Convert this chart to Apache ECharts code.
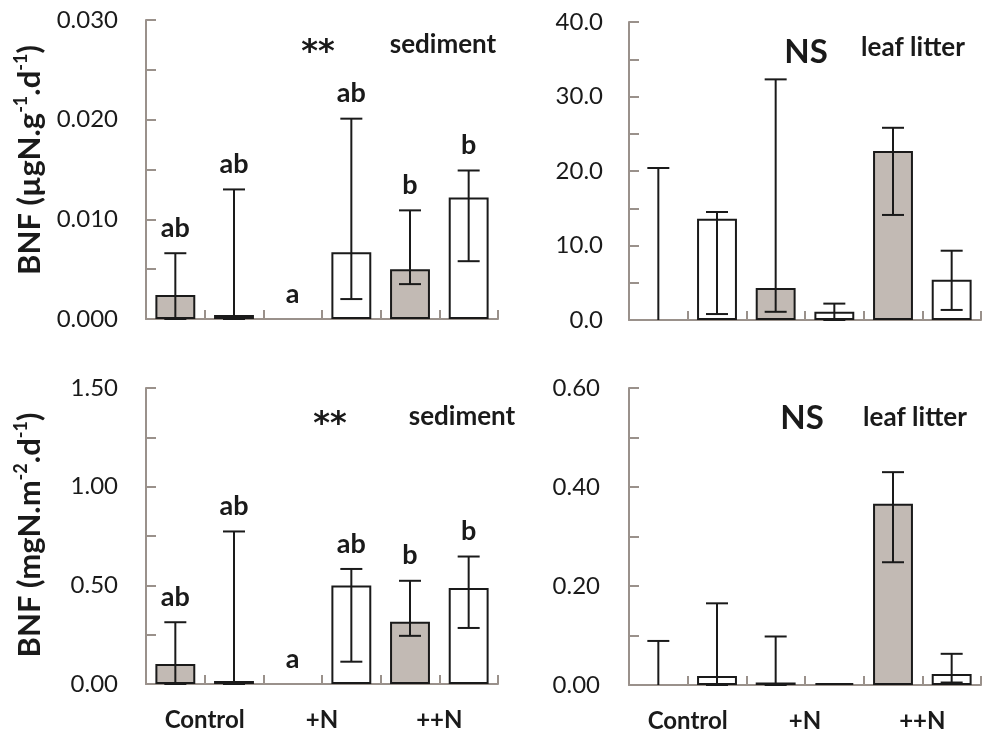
<!DOCTYPE html>
<html>
<head>
<meta charset="utf-8">
<script src="https://cdn.jsdelivr.net/npm/echarts@6/dist/echarts.min.js"></script>
<style>html,body{margin:0;padding:0;background:#fff}#c{width:983px;height:740px}</style>
</head>
<body>
<div id="c"></div>
<script>
// ---- data ----
const groups = ['Control', '+N', '++N'];
const barColors = ['#c2bab4', '#ffffff', '#c2bab4', '#ffffff', '#c2bab4', '#ffffff'];

// sediment, ugN.g-1.d-1
const sedG_val  = [0.0024, 0.0004, 0, 0.0067, 0.0050, 0.0122];
const sedG_low  = [0, 0, 0, 0.0020, 0.0035, 0.0058];
const sedG_high = [0.0066, 0.0130, 0, 0.0201, 0.0109, 0.0149];
const sedG_letters = ['ab', 'ab', 'a', 'ab', 'b', 'b'];

// leaf litter, ugN.g-1.d-1
const litG_val  = [0, 13.6, 4.3, 1.1, 22.7, 5.4];
const litG_low  = [0, 0.8, 1.1, 0, 14.1, 1.35];
const litG_high = [20.4, 14.5, 32.3, 2.2, 25.8, 9.3];

// sediment, mgN.m-2.d-1
const sedM_val  = [0.101, 0.015, 0, 0.499, 0.316, 0.487];
const sedM_low  = [0, 0, 0, 0.113, 0.244, 0.284];
const sedM_high = [0.313, 0.773, 0, 0.583, 0.523, 0.646];
const sedM_letters = ['ab', 'ab', 'a', 'ab', 'b', 'b'];

// leaf litter, mgN.m-2.d-1
const litM_val  = [0, 0.018, 0.005, 0.004, 0.366, 0.022];
const litM_low  = [0, 0, 0, 0.004, 0.248, 0.005];
const litM_high = [0.089, 0.165, 0.098, 0.004, 0.430, 0.063];

const yTicks = [
  {min: 0, max: 0.03, interval: 0.01, dec: 3},
  {min: 0, max: 40, interval: 10, dec: 1},
  {min: 0, max: 1.5, interval: 0.5, dec: 2},
  {min: 0, max: 0.6, interval: 0.2, dec: 2}
];
// ---------------

const FONT = 'Lato';
const AX = '#9a918b';
const INK = '#1a1a1a';
const slots = [0, 1, 2, 3, 4, 5].map(String);

const grids = [
  {left: 146, top: 20, width: 352, height: 299},
  {left: 629, top: 22, width: 352, height: 298},
  {left: 146, top: 388, width: 352, height: 296},
  {left: 629, top: 388, width: 352, height: 297}
];

const panels = [
  {val: sedG_val, low: sedG_low, high: sedG_high, letters: sedG_letters, labelMargin: 28},
  {val: litG_val, low: litG_low, high: litG_high, letters: null, labelMargin: 26},
  {val: sedM_val, low: sedM_low, high: sedM_high, letters: sedM_letters, labelMargin: 28},
  {val: litM_val, low: litM_low, high: litM_high, letters: null, labelMargin: 29}
];

const xAxes = [], yAxes = [], series = [];
panels.forEach((p, k) => {
  xAxes.push({
    type: 'category', gridIndex: k, data: slots,
    axisLine: {lineStyle: {color: AX, width: 2}},
    axisTick: {show: true, inside: true, length: 9, lineStyle: {color: AX, width: 2}},
    axisLabel: {show: false},
    splitLine: {show: false}
  });
  const t = yTicks[k];
  yAxes.push({
    type: 'value', gridIndex: k, min: t.min, max: t.max, interval: t.interval,
    axisLine: {show: true, lineStyle: {color: AX, width: 2}},
    axisTick: {show: true, inside: true, length: 10, lineStyle: {color: AX, width: 2}},
    minorTick: {show: true, splitNumber: 2, length: 10, lineStyle: {color: AX, width: 2}},
    splitLine: {show: false},
    axisLabel: {margin: p.labelMargin, fontFamily: FONT, fontSize: 24, color: INK,
      formatter: v => v.toFixed(t.dec)}
  });
  series.push({
    type: 'bar', xAxisIndex: k, yAxisIndex: k, barWidth: '68%', z: 2,
    data: p.val.map((v, i) => ({value: v, itemStyle: {color: barColors[i], borderColor: INK, borderWidth: v > 0 ? 2 : 0}})),
    silent: true, animation: false
  });
  series.push({
    type: 'custom', xAxisIndex: k, yAxisIndex: k, animation: false, silent: true, clip: false, z: 5,
    data: p.val.map((v, i) => [i, v, p.low[i], p.high[i]]),
    renderItem: (params, api) => {
      const i = api.value(0), v = api.value(1), lo = api.value(2), hi = api.value(3);
      const x = api.coord([i, 0])[0];
      const yv = api.coord([i, v])[1];
      const yl = api.coord([i, lo])[1];
      const yh = api.coord([i, hi])[1];
      const half = 11;
      const st = {stroke: INK, lineWidth: 2};
      const ch = [];
      if (hi !== v || lo !== v) {
        ch.push({type: 'line', shape: {x1: x, y1: yl, x2: x, y2: yh}, style: st});
        ch.push({type: 'line', shape: {x1: x - half, y1: yh, x2: x + half, y2: yh}, style: st});
        if (lo > 0 || v > 0) ch.push({type: 'line', shape: {x1: x - half, y1: yl, x2: x + half, y2: yl}, style: st});
      }
      if (p.letters) {
        ch.push({type: 'text', x: x, y: Math.min(yh, yv) - 25,
          style: {text: p.letters[i], fontFamily: FONT, fontWeight: 'bold', fontSize: 27, fill: INK,
            align: 'center', verticalAlign: 'middle'}});
      }
      return {type: 'group', children: ch};
    }
  });
});

// group label axes for bottom panels
[2, 3].forEach(k => {
  xAxes.push({
    type: 'category', gridIndex: k, data: groups, position: 'bottom',
    axisLine: {show: false}, axisTick: {show: false}, splitLine: {show: false},
    axisLabel: {margin: 24, fontFamily: FONT, fontWeight: 'bold', fontSize: 24, color: INK}
  });
});

function txt(x, y, s, size, font) {
  return {type: 'text', x: x, y: y, silent: true,
    style: {text: s, fontFamily: font || FONT, fontWeight: 'bold', fontSize: size, fill: INK, align: 'center', verticalAlign: 'middle'}};
}
const rich = {
  b: {fontFamily: FONT, fontWeight: 'bold', fontSize: 31, lineHeight: 36, fill: INK, color: INK},
  s: {fontFamily: FONT, fontWeight: 'bold', fontSize: 18, lineHeight: 36, verticalAlign: 'top', fill: INK, color: INK}
};
function ytitle(x, y, s) {
  return {type: 'text', x: x, y: y, rotation: Math.PI / 2, silent: true,
    style: {text: s, rich: rich, align: 'center', verticalAlign: 'middle', fill: INK}};
}

const chart = echarts.init(document.getElementById('c'), null, {renderer: 'canvas'});
chart.setOption({
  animation: false,
  backgroundColor: '#ffffff',
  grid: grids,
  xAxis: xAxes,
  yAxis: yAxes,
  series: series,
  graphic: [
    txt(318, 53, '**', 32, 'DejaVu Sans'), txt(443, 45, 'sediment', 26),
    txt(806, 52, 'NS', 33), txt(913, 48, 'leaf litter', 26),
    txt(330, 425, '**', 32, 'DejaVu Sans'), txt(462, 417, 'sediment', 26),
    txt(802, 418, 'NS', 33), txt(915, 418, 'leaf litter', 26),
    ytitle(30, 160, '{b|BNF (µgN.g}{s|-1}{b|.d}{s|-1}{b|)}'),
    ytitle(30, 535, '{b|BNF (mgN.m}{s|-2}{b|.d}{s|-1}{b|)}')
  ]
});
</script>
</body>
</html>
